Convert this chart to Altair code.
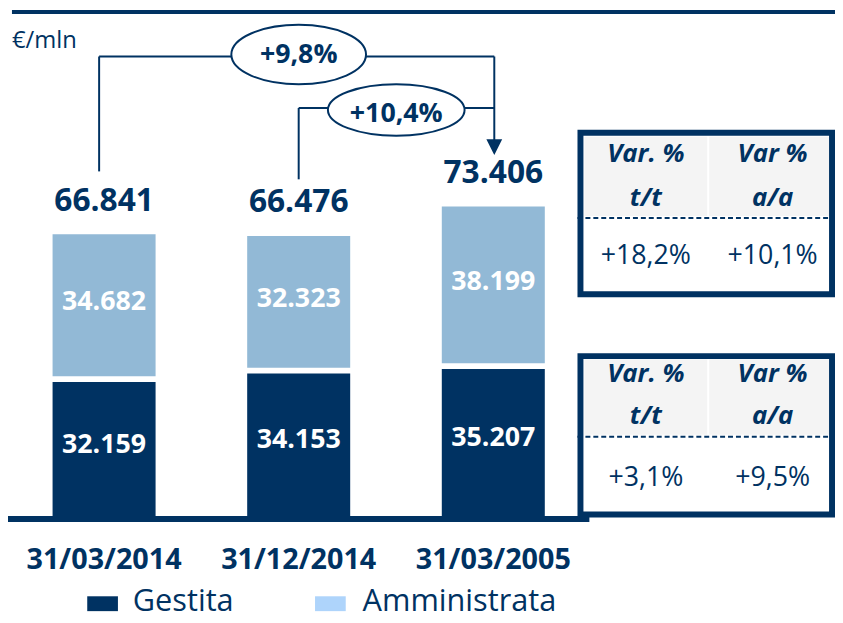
import altair as alt
import pandas as pd

# ---------------- data ----------------
dates = ["31/03/2014", "31/12/2014", "31/03/2005"]
gestita = [32159, 34153, 35207]
amministrata = [34682, 32323, 38199]
totals = [66841, 66476, 73406]
series = ["Gestita", "Amministrata"]
unit_label = "€/mln"
change_labels = ["+9,8%", "+10,4%"]
table_headers = [["Var. %", "t/t"], ["Var %", "a/a"]]
table_values = [["+18,2%", "+10,1%"], ["+3,1%", "+9,5%"]]

# ---------------- styles / layout ----------------
NAVY = "#003262"
LIGHT = "#92b9d6"
LEGEND_LIGHT = "#aed4fb"
HEADER_BG = "#f4f4f4"
FONT = "Open Sans"

W, H = 835, 615
BASE = 513
PX_PER_UNIT = 0.0043
YMAX = 100000
y_scale = alt.Scale(domain=[0, YMAX], range=[BASE, BASE - YMAX * PX_PER_UNIT])

X0, X1 = -1.25, 588.25
PI, PO = 0.4707, 0.2354
x_scale = alt.Scale(domain=dates, range=[X0, X1], paddingInner=PI, paddingOuter=PO)
step = (X1 - X0) / (len(dates) - PI + 2 * PO)
bw = step * (1 - PI)
centers = [X0 + step * PO + i * step + bw / 2 for i in range(len(dates))]


def fmt(v):
    return f"{v:,}".replace(",", ".")


rows = []
for d, g, a in zip(dates, gestita, amministrata):
    rows.append({"date": d, "series": series[0], "lo": 0, "hi": g, "label": fmt(g)})
    rows.append({"date": d, "series": series[1], "lo": g, "hi": g + a, "label": fmt(a)})
bar_df = pd.DataFrame(rows)
bar_df["mid"] = (bar_df["lo"] + bar_df["hi"]) / 2
tot_df = pd.DataFrame({"date": dates, "total": totals, "label": [fmt(t) for t in totals]})
one = pd.DataFrame({"k": [0]})

color = alt.Color("series:N", scale=alt.Scale(domain=series, range=[NAVY, LIGHT]), legend=None)
xenc = alt.X(
    "date:N", scale=x_scale, sort=dates, title=None,
    axis=alt.Axis(domain=False, ticks=False, tickSize=0, labelPadding=0, labelBaseline="middle",
                  labelFont=FONT, labelFontWeight="bold", labelFontSize=29, labelColor=NAVY,
                  labelAngle=0, grid=False, offset=554 - H),
)

layers = []
base_bars = alt.Chart(bar_df)
layers.append(base_bars.transform_filter(alt.datum.series == series[0]).mark_bar().encode(
    x=xenc, y=alt.Y("hi:Q", scale=y_scale, axis=None), y2="lo:Q", color=color))
layers.append(base_bars.transform_filter(alt.datum.series == series[1]).mark_bar(y2Offset=-6).encode(
    x=xenc, y=alt.Y("hi:Q", scale=y_scale, axis=None), y2="lo:Q", color=color))
layers.append(base_bars.mark_text(font=FONT, fontWeight="bold", fontSize=27, color="white",
                                  baseline="middle", dy=-6).encode(
    x=alt.X("date:N", sort=dates), y="mid:Q", text="label:N"))
layers.append(alt.Chart(tot_df).mark_text(font=FONT, fontWeight="bold", fontSize=32, color=NAVY,
                                          baseline="middle", dy=-34).encode(
    x=alt.X("date:N", sort=dates), y="total:Q", text="label:N"))

# baseline
layers.append(alt.Chart(one).mark_rule(color=NAVY, strokeWidth=6).encode(
    x=alt.value(-2), x2=alt.value(587), y=alt.datum(0)))
# top rule
layers.append(alt.Chart(one).mark_rule(color=NAVY, strokeWidth=4).encode(
    x=alt.value(4), x2=alt.value(W), y=alt.value(1)))
# unit label
layers.append(alt.Chart(one).mark_text(font=FONT, fontSize=24, color=NAVY, align="left",
                                       baseline="middle").encode(
    x=alt.value(4), y=alt.value(30), text=alt.value(unit_label)))

# brackets
def seg(x, x2, y, y2):
    return alt.Chart(one).mark_rule(color=NAVY, strokeWidth=2).encode(
        x=alt.value(x), x2=alt.value(x2), y=alt.value(y), y2=alt.value(y2))

rx = centers[2] + 1
b1x = centers[0] - 5
b2x = centers[1]
layers += [
    seg(b1x, b1x, 46, 162), seg(b1x, rx, 46, 46), seg(rx, rx, 46, 132),
    seg(b2x, b2x, 98, 170), seg(b2x, rx, 98, 98),
]
# arrow head
layers.append(alt.Chart(one).mark_point(shape="M -1 -1 L 1 -1 L 0 1 Z", size=256, filled=True,
                                        color=NAVY, opacity=1).encode(
    x=alt.value(rx), y=alt.value(137.5)))


def ellipse_path(b):
    k = 0.5523
    return (f"M -1 0 C -1 {-k*b:.4f} {-k:.4f} {-b:.4f} 0 {-b:.4f} "
            f"C {k:.4f} {-b:.4f} 1 {-k*b:.4f} 1 0 "
            f"C 1 {k*b:.4f} {k:.4f} {b:.4f} 0 {b:.4f} "
            f"C {-k:.4f} {b:.4f} -1 {k*b:.4f} -1 0 Z")


for (cx, cy, erx, ery, ty), lab in zip([(centers[1], 44, 68, 30, 45), (392, 100, 69, 26, 104)], change_labels):
    layers.append(alt.Chart(one).mark_point(shape=ellipse_path(ery / erx), size=(2 * erx) ** 2,
                                            filled=True, fill="white", stroke=NAVY, strokeWidth=2,
                                            opacity=1).encode(x=alt.value(cx), y=alt.value(cy)))
    layers.append(alt.Chart(one).mark_text(font=FONT, fontWeight="bold", fontSize=27, color=NAVY,
                                           baseline="middle").encode(
        x=alt.value(cx), y=alt.value(ty), text=alt.value(lab)))

# tables
tables = [
    dict(top=123, bot=286, hb0=127, hb1=207, h1=145, h2=189, dash=209, val=247),
    dict(top=348.5, bot=508.5, hb0=352, hb1=428, h1=367, h2=409, dash=430, val=472),
]
col_x = [644, 772]
for t, vals in zip(tables, table_values):
    layers.append(alt.Chart(one).mark_rect(color=HEADER_BG).encode(
        x=alt.value(582), x2=alt.value(706), y=alt.value(t["hb0"]), y2=alt.value(t["hb1"])))
    layers.append(alt.Chart(one).mark_rect(color=HEADER_BG).encode(
        x=alt.value(708), x2=alt.value(829), y=alt.value(t["hb0"]), y2=alt.value(t["hb1"])))
    layers.append(alt.Chart(one).mark_rule(color=NAVY, strokeWidth=2, strokeDash=[5, 3]).encode(
        x=alt.value(575), x2=alt.value(W), y=alt.value(t["dash"])))
    layers.append(alt.Chart(one).mark_rect(filled=False, stroke=NAVY, strokeWidth=6).encode(
        x=alt.value(578), x2=alt.value(832), y=alt.value(t["top"]), y2=alt.value(t["bot"])))
    for cx, hdr, v in zip(col_x, table_headers, vals):
        for yy, line in zip([t["h1"], t["h2"]], hdr):
            layers.append(alt.Chart(one).mark_text(font=FONT, fontWeight="bold", fontStyle="italic",
                                                   fontSize=26, color=NAVY, baseline="middle").encode(
                x=alt.value(cx), y=alt.value(yy), text=alt.value(line)))
        layers.append(alt.Chart(one).mark_text(font=FONT, fontSize=27, color=NAVY,
                                               baseline="middle").encode(
            x=alt.value(cx), y=alt.value(t["val"]), text=alt.value(v)))

# legend
for (sx, tx), name, col in zip([(80, 126), (310, 358)], series, [NAVY, LEGEND_LIGHT]):
    layers.append(alt.Chart(one).mark_rect(color=col).encode(
        x=alt.value(sx), x2=alt.value(sx + 31), y=alt.value(591), y2=alt.value(606)))
    layers.append(alt.Chart(one).mark_text(font=FONT, fontSize=31, color=NAVY, align="left",
                                           baseline="alphabetic").encode(
        x=alt.value(tx), y=alt.value(606), text=alt.value(name)))

chart = alt.layer(*layers).properties(
    width=W, height=H, padding=0, autosize=alt.AutoSizeParams(type="none"),
).configure_view(stroke=None)

chart.save("out.html", embed_options={"renderer": "svg", "actions": False})
